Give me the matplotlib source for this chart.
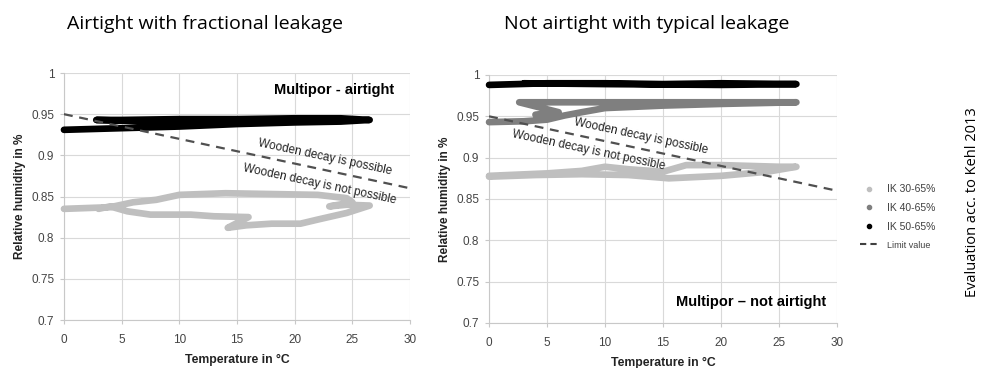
import matplotlib

matplotlib.use("Agg")
import matplotlib.pyplot as plt
from matplotlib.lines import Line2D

plt.rcParams["font.family"] = ["Liberation Sans", "DejaVu Sans"]

# Left panel: airtight with fractional leakage
left_ik30_t = [0, 4, 6, 8, 10, 14, 18, 22, 24.5, 25, 23, 24.5, 26.5, 24.5, 22,
               20.5, 18, 15.8, 14.2, 16, 13, 11, 7.5, 5.5, 4, 3]
left_ik30_rh = [0.835, 0.837, 0.843, 0.846, 0.852, 0.854, 0.853, 0.852, 0.848,
                0.843, 0.838, 0.840, 0.839, 0.830, 0.822, 0.817, 0.817, 0.815,
                0.812, 0.825, 0.826, 0.828, 0.828, 0.832, 0.838, 0.835]
left_ik50_t = [0, 5, 10, 15, 20, 24, 26.5, 24, 20, 15, 10, 5, 2.8, 8, 14, 20]
left_ik50_rh = [0.931, 0.933, 0.935, 0.938, 0.940, 0.941, 0.943, 0.945, 0.945,
                0.944, 0.944, 0.943, 0.943, 0.941, 0.941, 0.942]

# Right panel: not airtight with typical leakage
right_ik30_t = [0, 5, 8, 10, 12, 15, 17, 20, 25, 26.5, 24, 20, 17, 15.5, 12, 8, 4, 0]
right_ik30_rh = [0.878, 0.881, 0.884, 0.889, 0.886, 0.883, 0.891, 0.891, 0.889,
                 0.889, 0.883, 0.878, 0.876, 0.875, 0.879, 0.880, 0.879, 0.877]
right_ik40_t = [0, 3, 5, 6.5, 8, 10, 15, 20, 26.5, 20, 12, 6, 2.6, 6, 4]
right_ik40_rh = [0.943, 0.944, 0.946, 0.951, 0.955, 0.960, 0.963, 0.965, 0.967,
                 0.967, 0.967, 0.967, 0.967, 0.955, 0.952]
right_ik50_t = [0, 5, 10, 15, 20, 26.5, 20, 10, 3]
right_ik50_rh = [0.988, 0.990, 0.990, 0.989, 0.990, 0.989, 0.988, 0.989, 0.990]

# Limit value for wooden decay
limit_t = [0, 30]
limit_rh = [0.95, 0.86]

x_ticks = [0, 5, 10, 15, 20, 25, 30]
y_ticks = [0.7, 0.75, 0.8, 0.85, 0.9, 0.95, 1.0]
y_labels = ["0.7", "0.75", "0.8", "0.85", "0.9", "0.95", "1"]

c30, c40, c50 = "#bfbfbf", "#7f7f7f", "#000000"
lw = 4.8


def setup(ax):
    ax.set_xlim(0, 30)
    ax.set_ylim(0.7, 1.0)
    ax.set_xticks(x_ticks)
    ax.set_yticks(y_ticks)
    ax.set_yticklabels(y_labels)
    ax.grid(True, color="#d9d9d9", lw=0.8)
    for side in ("top", "right"):
        ax.spines[side].set_visible(False)
    for side in ("left", "bottom"):
        ax.spines[side].set_color("#c8c8c8")
        ax.spines[side].set_linewidth(0.8)
    ax.tick_params(length=3, width=0.8, color="#c8c8c8", labelsize=8.5,
                   labelcolor="#444444")
    ax.tick_params(axis="x", pad=7)
    ax.tick_params(axis="y", pad=4)
    ax.set_xlabel("Temperature in \u00b0C", fontsize=8.8, fontweight="bold",
                  labelpad=6, color="#222222")
    ax.set_ylabel("Relative humidity in %", fontsize=8.5, fontweight="bold",
                  labelpad=4, color="#222222")
    ax.plot(limit_t, limit_rh, ls=(0, (4, 3)), color="#505050", lw=1.6, zorder=4)


def series(ax, t, rh, c):
    ax.plot(t, rh, color=c, lw=lw, solid_capstyle="round",
            solid_joinstyle="round", zorder=3, clip_on=False)


fig = plt.figure(figsize=(9.84, 3.68), dpi=100)
ax1 = fig.add_axes([0.065, 0.1304, 0.3517, 0.6712])
ax2 = fig.add_axes([0.497, 0.1223, 0.3536, 0.6739])

setup(ax1)
series(ax1, left_ik30_t, left_ik30_rh, c30)
series(ax1, left_ik50_t, left_ik50_rh, c50)
ax1.text(0.955, 0.93, "Multipor - airtight", transform=ax1.transAxes,
         ha="right", va="center", fontsize=10.5, fontweight="bold")
ax1.text(22.6, 0.898, "Wooden decay is possible", rotation=-12,
         ha="center", va="center", fontsize=8.5, color="#222222", zorder=5)
ax1.text(22.2, 0.865, "Wooden decay is not possible", rotation=-12,
         ha="center", va="center", fontsize=8.5, color="#222222", zorder=5)

setup(ax2)
series(ax2, right_ik30_t, right_ik30_rh, c30)
series(ax2, right_ik40_t, right_ik40_rh, c40)
series(ax2, right_ik50_t, right_ik50_rh, c50)
ax2.text(0.97, 0.085, "Multipor \u2013 not airtight", transform=ax2.transAxes,
         ha="right", va="center", fontsize=10.5, fontweight="bold")
ax2.text(13.1, 0.926, "Wooden decay is possible", rotation=-12,
         ha="center", va="center", fontsize=8.5, color="#222222", zorder=5)
ax2.text(8.6, 0.909, "Wooden decay is not possible", rotation=-12,
         ha="center", va="center", fontsize=8.5, color="#222222", zorder=5)

fig.text(0.208, 0.935, "Airtight with fractional leakage", ha="center",
         va="center", fontsize=14, family=["Open Sans", "DejaVu Sans"])
fig.text(0.657, 0.935, "Not airtight with typical leakage", ha="center",
         va="center", fontsize=14, family=["Open Sans", "DejaVu Sans"])

handles = [
    Line2D([], [], ls="none", marker="o", ms=3, color=c30),
    Line2D([], [], ls="none", marker="o", ms=3, color=c40),
    Line2D([], [], ls="none", marker="o", ms=3, color=c50),
    Line2D([], [], ls=(0, (3, 2)), lw=1.5, color="#404040"),
]
labels = ["IK 30-65%", "IK 40-65%", "IK 50-65%", "Limit value"]
leg = fig.legend(handles, labels, loc="center", bbox_to_anchor=(0.912, 0.41),
                 frameon=False, fontsize=7.5, handlelength=1.8, labelspacing=0.85)
for txt in leg.get_texts():
    txt.set_color("#404040")
leg.get_texts()[3].set_fontsize(6.5)

fig.text(0.988, 0.45, "Evaluation acc. to Kehl 2013", rotation=90, ha="center",
         va="center", fontsize=10.5, family=["Open Sans", "DejaVu Sans"])

fig.savefig("out.png", dpi=100)
